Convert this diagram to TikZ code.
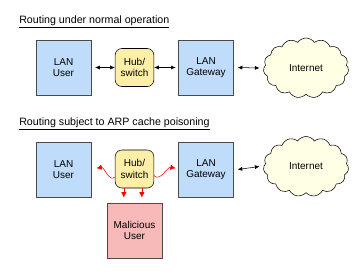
\documentclass[tikz,border=0pt]{standalone}
\usepackage{fontspec}
\setmainfont{Liberation Sans}
\usetikzlibrary{arrows.meta, positioning, shapes.symbols}
\definecolor{lanblue}{HTML}{BFDCFA}
\definecolor{hubyellow}{HTML}{FDEEA8}
\definecolor{evilred}{HTML}{F8B9B9}
\definecolor{cloudfill}{HTML}{FFFFE6}
\definecolor{edgegray}{HTML}{4A4A4A}

\begin{document}
\begin{tikzpicture}[
  x=0.75pt, y=-0.75pt,
  box/.style={draw=edgegray, fill=lanblue, minimum width=41pt,
              minimum height=41pt, align=center, font=\fontsize{7.5}{8.5}\selectfont},
  hub/.style={draw=black, fill=hubyellow, rounded corners=5pt, minimum width=29pt,
              minimum height=28.5pt, align=center, inner sep=1pt, font=\fontsize{7.5}{8.5}\selectfont},
  net/.style={cloud, cloud puffs=15, cloud puff arc=110, aspect=1.5, draw=black,
              fill=cloudfill, minimum width=64pt, minimum height=45pt,
              font=\fontsize{7.5}{8.5}\selectfont},
  title/.style={anchor=base west, inner sep=0pt, font=\fontsize{8}{9.5}\selectfont},
  arr/.style={{Latex[length=3.5pt,width=3pt]}-{Latex[length=3.5pt,width=3pt]}, thin},
  rarr/.style={-{Latex[length=4pt,width=4pt]}, red, thin},
]
  \useasboundingbox (0,0) rectangle (359,275);

  % normal operation
  \node[title] (t1) at (19,23) {\underline{Routing under normal operation}};
  \node[box]         (usr1) at (63.5,67.5)  {LAN\\User};
  \node[hub]         (hub1) at (134.5,67.5) {Hub/\\switch};
  \node[box]         (gw1)  at (206,67.5)   {LAN\\Gateway};
  \node[net]         (inet1) at (306,68)    {Internet};

  \draw[arr] ([xshift=3pt]usr1.east) -- (hub1.west);
  \draw[arr] (hub1) -- ([xshift=-2pt]gw1.west);
  \draw[arr] ([xshift=3pt]gw1.east) -- ([xshift=-3pt]inet1.west);

  % ARP cache poisoning
  \node[title] (t2) at (19,125) {\underline{Routing subject to ARP cache poisoning}};
  \node[box]         (usr2) at (63.5,169.5)  {LAN\\User};
  \node[hub]         (hub2) at (134.5,169)   {Hub/\\switch};
  \node[box]         (gw2)  at (206,169.5)   {LAN\\Gateway};
  \node[net]         (inet2) at (306,166.5)  {Internet};
  \node[box, fill=evilred] (mal) at (134.5,230.5) {Malicious\\User};

  \draw[rarr] ([yshift=-6pt]hub2.west) to[out=225, in=10] ([xshift=4pt,yshift=1pt]usr2.east);
  \draw[rarr] ([yshift=-5pt]hub2.east) to[out=-45, in=170] ([xshift=-2pt,yshift=1pt]gw2.west);
  \draw[rarr] ([xshift=-8pt]hub2.south) -- ([xshift=-8pt,yshift=4pt]mal.north);
  \draw[rarr] ([xshift=5.5pt]hub2.south) -- ([xshift=5.5pt,yshift=4pt]mal.north);
  \draw[arr] ([xshift=3pt]gw2.east) -- ([xshift=-3pt]inet2.west);
\end{tikzpicture}
\end{document}
